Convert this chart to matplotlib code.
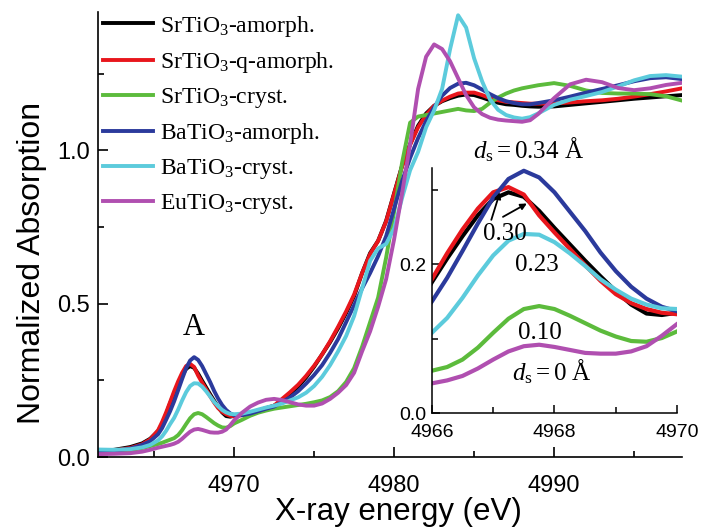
import matplotlib
matplotlib.use("Agg")
import matplotlib.pyplot as plt
from matplotlib.ticker import MultipleLocator, ScalarFormatter

plt.rcParams['font.family'] = ['Liberation Sans', 'DejaVu Sans']
plt.rcParams['mathtext.fontset'] = 'custom'
plt.rcParams['mathtext.rm'] = 'Liberation Serif'
plt.rcParams['mathtext.it'] = 'Liberation Serif:italic'

# Ti K-edge XANES, photon energy in eV
energy = [4961.5, 4962.5, 4963.5, 4964.25, 4964.75, 4965.25, 4965.5, 4965.75,
          4966.0, 4966.25, 4966.5, 4966.75, 4967.0, 4967.25, 4967.5, 4967.75,
          4968.0, 4968.25, 4968.5, 4968.75, 4969.0, 4969.25, 4969.5, 4969.75, 4970.0,
          4970.5, 4971.0, 4971.5, 4972.0, 4972.5, 4973.0, 4973.5, 4974.0, 4974.5,
          4975.0, 4975.5, 4976.0, 4976.5, 4977.0, 4977.5, 4978.0, 4978.5, 4979.0,
          4979.5, 4980.0, 4980.5, 4981.0, 4981.5, 4982.0, 4982.5, 4983.0, 4983.5,
          4984.0, 4984.5, 4985.0, 4985.5, 4986.0, 4986.5, 4987.0, 4987.5, 4988.0,
          4988.5, 4989.0, 4990.0, 4991.0, 4992.0, 4993.0, 4994.0, 4995.0, 4996.0,
          4997.0, 4998.0]

srtio3_amorph = [0.020, 0.024, 0.033, 0.045, 0.060, 0.085, 0.108, 0.140,
                 0.176, 0.208, 0.238, 0.266, 0.288, 0.297, 0.291, 0.272, 0.249, 0.227,
                 0.205, 0.184, 0.164, 0.146, 0.134, 0.132, 0.135,
                 0.138, 0.145, 0.152, 0.160, 0.168, 0.185, 0.205, 0.230, 0.260, 0.295,
                 0.335, 0.375, 0.420, 0.470, 0.525, 0.600, 0.665, 0.705, 0.770, 0.860,
                 0.950, 1.020, 1.080, 1.120, 1.145, 1.160, 1.170, 1.178, 1.182, 1.180,
                 1.172, 1.163, 1.155, 1.150, 1.148, 1.145, 1.143, 1.142, 1.143, 1.148,
                 1.153, 1.158, 1.163, 1.168, 1.172, 1.176, 1.180]

srtio3_q_amorph = [0.018, 0.022, 0.030, 0.042, 0.058, 0.088, 0.115, 0.146,
                   0.180, 0.215, 0.247, 0.275, 0.297, 0.304, 0.294, 0.266, 0.243, 0.221,
                   0.199, 0.178, 0.160, 0.148, 0.140, 0.135, 0.133,
                   0.137, 0.143, 0.150, 0.158, 0.168, 0.190, 0.212, 0.236, 0.265, 0.298,
                   0.335, 0.378, 0.425, 0.475, 0.530, 0.600, 0.662, 0.705, 0.768, 0.858,
                   0.948, 1.018, 1.075, 1.115, 1.145, 1.162, 1.175, 1.185, 1.188, 1.188,
                   1.180, 1.170, 1.163, 1.158, 1.156, 1.154, 1.152, 1.152, 1.153, 1.156,
                   1.160, 1.163, 1.168, 1.175, 1.183, 1.192, 1.202]

srtio3_cryst = [0.015, 0.017, 0.022, 0.030, 0.036, 0.043, 0.047, 0.052,
                0.057, 0.062, 0.072, 0.088, 0.108, 0.127, 0.140, 0.144, 0.140, 0.131,
                0.121, 0.111, 0.103, 0.097, 0.096, 0.101, 0.110,
                0.122, 0.135, 0.145, 0.152, 0.158, 0.162, 0.166, 0.170, 0.174, 0.179,
                0.185, 0.196, 0.215, 0.245, 0.290, 0.360, 0.440, 0.520, 0.650, 0.800,
                0.960, 1.090, 1.110, 1.115, 1.120, 1.125, 1.130, 1.135, 1.130, 1.128,
                1.135, 1.155, 1.172, 1.185, 1.195, 1.202, 1.207, 1.212, 1.219, 1.210,
                1.195, 1.187, 1.185, 1.185, 1.183, 1.176, 1.162]

batio3_amorph = [0.015, 0.020, 0.028, 0.040, 0.052, 0.075, 0.095, 0.122,
                 0.150, 0.182, 0.218, 0.255, 0.290, 0.315, 0.326, 0.317, 0.297, 0.271,
                 0.245, 0.216, 0.191, 0.170, 0.154, 0.143, 0.137,
                 0.137, 0.142, 0.150, 0.158, 0.165, 0.180, 0.195, 0.215, 0.240, 0.268,
                 0.300, 0.340, 0.385, 0.440, 0.495, 0.550, 0.600, 0.655, 0.720, 0.810,
                 0.900, 0.975, 1.040, 1.095, 1.140, 1.178, 1.203, 1.217, 1.220, 1.212,
                 1.198, 1.183, 1.170, 1.160, 1.154, 1.150, 1.150, 1.154, 1.163, 1.175,
                 1.188, 1.200, 1.212, 1.225, 1.235, 1.238, 1.232]

batio3_cryst = [0.025, 0.024, 0.026, 0.032, 0.040, 0.055, 0.068, 0.086,
                0.108, 0.128, 0.155, 0.185, 0.212, 0.232, 0.241, 0.240, 0.230, 0.215,
                0.198, 0.180, 0.166, 0.154, 0.146, 0.141, 0.140,
                0.142, 0.148, 0.155, 0.162, 0.168, 0.175, 0.185, 0.195, 0.210, 0.232,
                0.262, 0.300, 0.345, 0.395, 0.460, 0.550, 0.640, 0.680, 0.695, 0.745,
                0.845, 0.935, 0.995, 1.075, 1.130, 1.200, 1.330, 1.440, 1.400, 1.300,
                1.225, 1.165, 1.132, 1.115, 1.107, 1.103, 1.108, 1.120, 1.148, 1.165,
                1.177, 1.190, 1.208, 1.228, 1.242, 1.245, 1.240]

eutio3_cryst = [0.010, 0.011, 0.013, 0.018, 0.024, 0.031, 0.034, 0.037,
                0.040, 0.044, 0.050, 0.060, 0.072, 0.083, 0.090, 0.092, 0.089, 0.085,
                0.081, 0.080, 0.080, 0.083, 0.090, 0.104, 0.120,
                0.145, 0.165, 0.178, 0.187, 0.190, 0.186, 0.179, 0.172, 0.168, 0.168,
                0.175, 0.190, 0.210, 0.235, 0.275, 0.345, 0.410, 0.490, 0.580, 0.710,
                0.860, 1.020, 1.200, 1.305, 1.345, 1.330, 1.290, 1.235, 1.180, 1.140,
                1.118, 1.106, 1.100, 1.097, 1.095, 1.093, 1.098, 1.118, 1.170, 1.215,
                1.230, 1.222, 1.203, 1.196, 1.202, 1.213, 1.220]

series = [srtio3_amorph, srtio3_q_amorph, srtio3_cryst,
          batio3_amorph, batio3_cryst, eutio3_cryst]
labels = ['SrTiO$_3$-amorph.', 'SrTiO$_3$-q-amorph.', 'SrTiO$_3$-cryst.',
          'BaTiO$_3$-amorph.', 'BaTiO$_3$-cryst.', 'EuTiO$_3$-cryst.']
colors = ['#000000', '#e8161c', '#5cbb3c', '#2b3a9c', '#5ccbdc', '#b04fb0']

# off-centre displacement labels for the pre-edge inset
ds_labels = ['0.30', '0.23', '0.10']

serif = ['Liberation Serif', 'DejaVu Serif']

fig = plt.figure(figsize=(7.01, 5.31), dpi=100)
ax = fig.add_axes([0.140, 0.139, 0.833, 0.838])

for y, c, lab in zip(series, colors, labels):
    ax.plot(energy, y, color=c, lw=2.8, label=lab, solid_joinstyle='round')

ax.set_xlim(4961.5, 4998)
ax.set_ylim(0, 1.45)
for s in ('top', 'right'):
    ax.spines[s].set_visible(False)
for s in ('left', 'bottom'):
    ax.spines[s].set_linewidth(1.2)
ax.xaxis.set_major_locator(MultipleLocator(10))
ax.xaxis.set_minor_locator(MultipleLocator(5))
ax.yaxis.set_major_locator(MultipleLocator(0.5))
ax.yaxis.set_minor_locator(MultipleLocator(0.25))
ax.xaxis.set_major_formatter(ScalarFormatter(useOffset=False))
ax.tick_params(which='major', direction='in', length=7, width=1.2, labelsize=17)
ax.tick_params(which='minor', direction='in', length=4, width=1.2)
ax.tick_params(axis='x', which='major', pad=13)
ax.tick_params(axis='y', which='major', pad=6)
ax.set_xlabel('X-ray energy (eV)', fontsize=22.5)
ax.set_ylabel('Normalized Absorption', fontsize=23)
ax.xaxis.set_label_coords(0.514, -0.090)
ax.yaxis.set_label_coords(-0.087, 0.436)

ax.legend(loc='upper left', bbox_to_anchor=(0.005, 1.002), frameon=False,
          prop={'family': serif, 'size': 17}, handlelength=2.1,
          handletextpad=0.3, labelspacing=0.47, borderaxespad=0.0,
          borderpad=0.1)

ax.text(4967.47, 0.397, 'A', family=serif, fontsize=22, ha='center', va='baseline')

# inset: zoom on the pre-edge peak A
axin = fig.add_axes([0.616, 0.222, 0.350, 0.462])
for y, c in zip(series, colors):
    axin.plot(energy, y, color=c, lw=3.0, solid_joinstyle='round')
axin.set_xlim(4966, 4970)
axin.set_ylim(0, 0.33)
for s in ('top', 'right'):
    axin.spines[s].set_visible(False)
for s in ('left', 'bottom'):
    axin.spines[s].set_linewidth(1.1)
axin.xaxis.set_major_locator(MultipleLocator(2))
axin.xaxis.set_minor_locator(MultipleLocator(1))
axin.yaxis.set_major_locator(MultipleLocator(0.2))
axin.yaxis.set_minor_locator(MultipleLocator(0.1))
axin.xaxis.set_major_formatter(ScalarFormatter(useOffset=False))
axin.tick_params(which='major', direction='in', length=6, width=1.1, labelsize=14)
axin.tick_params(which='minor', direction='in', length=4, width=1.1)
axin.tick_params(axis='x', which='major', pad=8)
axin.tick_params(axis='y', which='major', pad=4)

fs = 18
axin.text(4966.67, 0.342, r'$d_{\mathrm{s}} = 0.34$ Å', family=serif, fontsize=fs,
          ha='left', va='baseline', clip_on=False)
axin.text(4966.84, 0.233, ds_labels[0], family=serif, fontsize=fs, ha='left', va='baseline')
axin.text(4967.355, 0.1907, ds_labels[1], family=serif, fontsize=fs, ha='left', va='baseline')
axin.text(4967.41, 0.0996, ds_labels[2], family=serif, fontsize=fs, ha='left', va='baseline')
axin.text(4967.30, 0.044, r'$d_{\mathrm{s}} = 0$ Å', family=serif, fontsize=fs,
          ha='left', va='baseline')

arrow = dict(arrowstyle='-|>', color='black', lw=1.3, mutation_scale=9,
             shrinkA=0, shrinkB=0)
axin.annotate('', xy=(4967.11, 0.297), xytext=(4966.97, 0.260), arrowprops=arrow)
axin.annotate('', xy=(4967.55, 0.282), xytext=(4967.16, 0.264), arrowprops=arrow)

fig.savefig('out.png', dpi=100)
